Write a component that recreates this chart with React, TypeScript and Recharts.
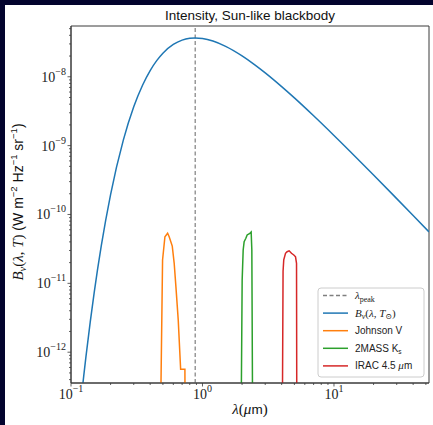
import * as React from "react";
import { LineChart, Line, XAxis, YAxis, ReferenceLine, ReferenceArea } from "recharts";

// blackbody curve B_nu(lambda, T_sun), lambda in micron
const bbLambda = [0.115, 0.12, 0.125, 0.13, 0.14, 0.15, 0.17, 0.2, 0.25, 0.3, 0.35, 0.4, 0.45, 0.5, 0.6, 0.7, 0.8, 0.88, 1.0, 1.2, 1.5, 2, 2.5, 3, 4, 5, 7, 10, 15, 20, 30, 40, 52.8];
const bbValue = [1.03e-13, 2.24e-13, 4.54e-13, 8.68e-13, 2.73e-12, 7.26e-12, 3.52e-11, 1.945e-10, 1.2e-9, 3.66e-9, 7.54e-9, 1.231e-8, 1.73e-8, 2.2e-8, 2.945e-8, 3.4e-8, 3.612e-8, 3.657e-8, 3.591e-8, 3.301e-8, 2.763e-8, 2.008e-8, 1.489e-8, 1.138e-8, 7.19e-9, 4.93e-9, 2.71e-9, 1.405e-9, 6.52e-10, 3.75e-10, 1.7e-10, 9.67e-11, 5.59e-11];

// filter curves (scaled)
const johnsonLambda = [0.483, 0.497, 0.518, 0.543, 0.558, 0.589, 0.609, 0.628, 0.654, 0.682, 0.735, 0.736];
const johnsonValue = [3e-13, 2.18e-11, 4.75e-11, 5.33e-11, 4.75e-11, 3.48e-11, 1.97e-11, 8.9e-12, 2.92e-12, 5.66e-13, 5.66e-13, 3e-13];

const ksLambda = [1.975, 2.003, 2.039, 2.074, 2.137, 2.186, 2.292, 2.345, 2.373, 2.4];
const ksValue = [3e-13, 1.11e-11, 3.05e-11, 4.02e-11, 4.51e-11, 5.04e-11, 5.33e-11, 5.56e-11, 3.05e-11, 3e-13];

const iracLambda = [4.06, 4.1, 4.15, 4.28, 4.4, 4.56, 4.75, 4.95, 5.1, 5.19, 5.21];
const iracValue = [3e-13, 1.5e-11, 2.2e-11, 2.73e-11, 2.88e-11, 2.97e-11, 2.73e-11, 2.58e-11, 2.43e-11, 1.95e-11, 3e-13];

const lambdaPeak = 0.88;

const xDomain = [0.1, 52.8];
const yDomain = [3.57e-13, 5.46e-8];
const xMajor = [0.1, 1, 10];
const yMajor = [1e-12, 1e-11, 1e-10, 1e-9, 1e-8];

const zip = (xs: number[], ys: number[]) => xs.map((x, i) => ({ x, y: ys[i] }));

function logTicks(lo: number, hi: number) {
  const out: number[] = [];
  for (let e = Math.floor(Math.log10(lo)); e <= Math.ceil(Math.log10(hi)); e++) {
    for (let m = 1; m <= 9; m++) {
      const v = m * Math.pow(10, e);
      if (v >= lo * 0.999 && v <= hi * 1.001) out.push(v);
    }
  }
  return out;
}

const AXIS = "#3a3a3a";
const SERIF = "'Liberation Serif', 'DejaVu Serif', serif";
const SANS = "'Liberation Sans', 'DejaVu Sans', sans-serif";

function isMajor(v: number, majors: number[]) {
  return majors.some((m) => Math.abs(v - m) / m < 1e-6);
}

function YTick(props: any) {
  const { x, y, payload } = props;
  const v = payload.value as number;
  const major = isMajor(v, yMajor);
  const exp = Math.round(Math.log10(v));
  return (
    <g>
      <line x1={x} x2={x - (major ? 3.5 : 2)} y1={y} y2={y} stroke={AXIS} strokeWidth={0.8} />
      {major && (
        <text x={x - 5} y={y + 5} textAnchor="end" fontFamily={SERIF} fontSize={14} fill="#222">
          10
          <tspan fontSize={10} dy={-7}>{"\u2212" + Math.abs(exp)}</tspan>
        </text>
      )}
    </g>
  );
}

function XTick(props: any) {
  const { x, y, payload } = props;
  const v = payload.value as number;
  const major = isMajor(v, xMajor);
  const exp = Math.round(Math.log10(v));
  return (
    <g>
      <line x1={x} x2={x} y1={y} y2={y + (major ? 3.5 : 2)} stroke={AXIS} strokeWidth={0.8} />
      {major && (
        <text x={x} y={y + 16} textAnchor="middle" fontFamily={SERIF} fontSize={14} fill="#222">
          10
          <tspan fontSize={10} dy={-7}>{exp < 0 ? "\u2212" + Math.abs(exp) : String(exp)}</tspan>
        </text>
      )}
    </g>
  );
}

const legendItems = [
  { key: "peak", color: "#7f7f7f", dash: "4 2.5" },
  { key: "bb", color: "#1f77b4" },
  { key: "v", color: "#ff7f0e" },
  { key: "ks", color: "#2ca02c" },
  { key: "irac", color: "#d62728" },
];

function LegendLabel({ k, x, y }: { k: string; x: number; y: number }) {
  if (k === "peak")
    return (
      <text x={x} y={y} fontFamily={SERIF} fontSize={11} fontStyle="italic" fill="#222">
        λ<tspan fontSize={8} dy={2.5} fontStyle="normal">peak</tspan>
      </text>
    );
  if (k === "bb")
    return (
      <text x={x} y={y} fontFamily={SERIF} fontSize={11} fontStyle="italic" fill="#222">
        B<tspan fontSize={8} dy={2.5}>ν</tspan>
        <tspan dy={-2.5} fontStyle="normal">(</tspan>λ<tspan fontStyle="normal">, </tspan>T
        <tspan fontSize={8} dy={2.5} fontStyle="normal">⊙</tspan>
        <tspan dy={-2.5} fontStyle="normal">)</tspan>
      </text>
    );
  if (k === "v")
    return (
      <text x={x} y={y} fontFamily={SANS} fontSize={10} fill="#222">Johnson V</text>
    );
  if (k === "ks")
    return (
      <text x={x} y={y} fontFamily={SANS} fontSize={10} fill="#222">
        2MASS K<tspan fontSize={6.5} dy={2}>s</tspan>
      </text>
    );
  return (
    <text x={x} y={y} fontFamily={SANS} fontSize={10} fill="#222">
      IRAC 4.5 <tspan fontFamily={SERIF} fontStyle="italic" fontSize={11}>μ</tspan>m
    </text>
  );
}

export default function App() {
  const W = 433;
  const H = 425;
  return (
    <div style={{ position: "absolute", left: 0, top: 0, width: W, height: H, background: "#03042e" }}>
      <div style={{ position: "absolute", left: 5, top: 5, width: W - 5, height: H - 5, background: "#ffffff" }} />
      <div style={{ position: "absolute", left: 0, top: 0 }}>
        <LineChart width={W} height={H} margin={{ top: 26, right: 4, left: 0, bottom: 0 }}>
          <XAxis
            type="number"
            dataKey="x"
            scale="log"
            domain={xDomain}
            allowDataOverflow
            ticks={logTicks(xDomain[0], xDomain[1])}
            interval={0}
            height={42}
            tickSize={0}
            tickMargin={0}
            tickLine={false}
            axisLine={{ stroke: AXIS, strokeWidth: 1 }}
            tick={<XTick />}
          />
          <YAxis
            type="number"
            dataKey="y"
            scale="log"
            domain={yDomain}
            allowDataOverflow
            ticks={logTicks(yDomain[0], yDomain[1])}
            interval={0}
            width={71}
            tickSize={0}
            tickMargin={0}
            tickLine={false}
            axisLine={{ stroke: AXIS, strokeWidth: 1 }}
            tick={<YTick />}
          />
          <ReferenceArea
            x1={xDomain[0]}
            x2={xDomain[1]}
            y1={yDomain[0]}
            y2={yDomain[1]}
            fill="none"
            fillOpacity={0}
            stroke={AXIS}
            strokeWidth={1}
          />
          <ReferenceLine x={lambdaPeak} stroke="#7f7f7f" strokeWidth={1.2} strokeDasharray="4 2.5" />
          <Line data={zip(bbLambda, bbValue)} dataKey="y" type="monotone" stroke="#1f77b4" strokeWidth={1.5} dot={false} isAnimationActive={false} />
          <Line data={zip(johnsonLambda, johnsonValue)} dataKey="y" type="linear" stroke="#ff7f0e" strokeWidth={1.5} dot={false} isAnimationActive={false} />
          <Line data={zip(ksLambda, ksValue)} dataKey="y" type="linear" stroke="#2ca02c" strokeWidth={1.5} dot={false} isAnimationActive={false} />
          <Line data={zip(iracLambda, iracValue)} dataKey="y" type="linear" stroke="#d62728" strokeWidth={1.5} dot={false} isAnimationActive={false} />
        </LineChart>
      </div>
      <svg width={W} height={H} style={{ position: "absolute", left: 0, top: 0, pointerEvents: "none" }}>
        <text x={250} y={20} textAnchor="middle" fontFamily={SANS} fontSize={13.5} fill="#111">
          Intensity, Sun-like blackbody
        </text>
        <text x={250} y={414} textAnchor="middle" fontFamily={SERIF} fontSize={15} fill="#111">
          <tspan fontStyle="italic">λ</tspan>(<tspan fontStyle="italic">μ</tspan>
          <tspan fontFamily={SANS} fontSize={13.5}>m</tspan>)
        </text>
        <text transform="translate(23,202) rotate(-90)" textAnchor="middle" fontSize={15} fill="#111" fontFamily={SERIF}>
          <tspan fontStyle="italic">B</tspan>
          <tspan fontStyle="italic" fontSize={10.5} dy={3}>ν</tspan>
          <tspan dy={-3}>(</tspan>
          <tspan fontStyle="italic">λ</tspan>
          <tspan>, </tspan>
          <tspan fontStyle="italic">T</tspan>
          <tspan>) </tspan>
          <tspan fontFamily={SANS} fontSize={14}>(W m</tspan>
          <tspan fontFamily={SANS} fontSize={9.5} dy={-6}>−2</tspan>
          <tspan fontFamily={SANS} fontSize={14} dy={6}> Hz</tspan>
          <tspan fontFamily={SANS} fontSize={9.5} dy={-6}>−1</tspan>
          <tspan fontFamily={SANS} fontSize={14} dy={6}> sr</tspan>
          <tspan fontFamily={SANS} fontSize={9.5} dy={-6}>−1</tspan>
          <tspan fontFamily={SANS} fontSize={14} dy={6}>)</tspan>
        </text>
        <rect x={318} y={288} width={106} height={89} rx={3} fill="#ffffff" fillOpacity={0.85} stroke="#cccccc" strokeWidth={1} />
        {legendItems.map((it, i) => {
          const cy = 295.5 + i * 17.6;
          return (
            <g key={it.key}>
              <line x1={323} x2={348} y1={cy} y2={cy} stroke={it.color} strokeWidth={1.5} strokeDasharray={it.dash} />
              <LegendLabel k={it.key} x={355} y={cy + 3.5} />
            </g>
          );
        })}
      </svg>
    </div>
  );
}
